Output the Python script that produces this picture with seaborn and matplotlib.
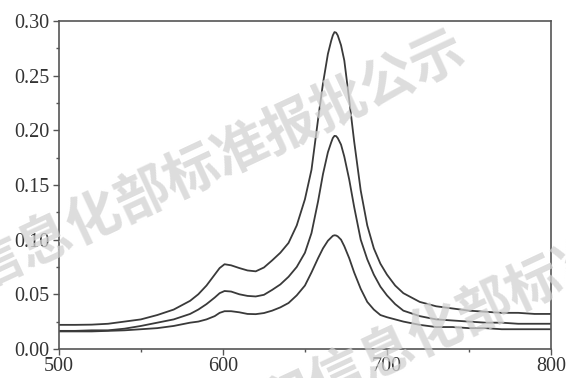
import matplotlib
matplotlib.use("Agg")
import matplotlib.pyplot as plt
import numpy as np
import pandas as pd
import seaborn as sns
from matplotlib.ticker import MultipleLocator

# wavelength (nm) and absorbance of the three spectra
wavelength = [500, 510, 520, 530, 540, 550, 560, 570, 580, 585, 590, 595, 598,
              601, 605, 610, 615, 620, 625, 630, 635, 640, 645, 650, 654, 658,
              661, 664, 666, 667, 668, 669, 670, 672, 674, 677, 680, 684, 688,
              692, 696, 700, 705, 710, 720, 730, 740, 750, 760, 770, 780, 790,
              800]

high = [0.022, 0.022, 0.0222, 0.023, 0.025, 0.027, 0.031, 0.036, 0.044, 0.050,
        0.058, 0.068, 0.074, 0.0775, 0.0765, 0.074, 0.0718, 0.071, 0.0745, 0.081,
        0.088, 0.097, 0.113, 0.137, 0.164, 0.210, 0.243, 0.270, 0.282, 0.287,
        0.290, 0.2895, 0.287, 0.278, 0.264, 0.228, 0.190, 0.145, 0.113, 0.092,
        0.078, 0.068, 0.058, 0.051, 0.043, 0.039, 0.037, 0.035, 0.034, 0.033,
        0.033, 0.032, 0.032]

mid = [0.0165, 0.0165, 0.017, 0.017, 0.0185, 0.021, 0.024, 0.027, 0.032, 0.036,
       0.041, 0.047, 0.051, 0.053, 0.0525, 0.050, 0.0485, 0.048, 0.0495, 0.054,
       0.059, 0.066, 0.075, 0.088, 0.106, 0.135, 0.160, 0.180, 0.189, 0.193,
       0.195, 0.1948, 0.193, 0.187, 0.176, 0.155, 0.130, 0.100, 0.082, 0.068,
       0.057, 0.049, 0.041, 0.035, 0.030, 0.027, 0.026, 0.025, 0.024, 0.024,
       0.023, 0.023, 0.023]

low = [0.016, 0.016, 0.016, 0.0165, 0.017, 0.018, 0.019, 0.021, 0.024, 0.025,
       0.027, 0.030, 0.033, 0.0345, 0.0345, 0.0335, 0.032, 0.0318, 0.0328, 0.035,
       0.038, 0.042, 0.049, 0.058, 0.070, 0.083, 0.092, 0.099, 0.102, 0.1035,
       0.104, 0.1038, 0.103, 0.100, 0.094, 0.083, 0.070, 0.055, 0.043, 0.036,
       0.031, 0.029, 0.027, 0.025, 0.022, 0.020, 0.020, 0.019, 0.019, 0.018,
       0.018, 0.018, 0.018]

watermark = "工业和信息化部标准报批公示"

df = pd.concat([
    pd.DataFrame({"wavelength": wavelength, "abs": high, "series": "high"}),
    pd.DataFrame({"wavelength": wavelength, "abs": mid, "series": "mid"}),
    pd.DataFrame({"wavelength": wavelength, "abs": low, "series": "low"}),
])

sns.set_style("ticks")
plt.rcParams["font.family"] = ["Liberation Serif", "DejaVu Serif"]

fig = plt.figure(figsize=(5.66, 3.78), dpi=100)
ax = fig.add_axes([0.104, 0.077, 0.8695, 0.867])

sns.lineplot(data=df, x="wavelength", y="abs", hue="series",
             palette=["#3a3a3a"] * 3, linewidth=1.3, legend=False, ax=ax)

ax.set_xlim(500, 800)
ax.set_ylim(0, 0.30)
ax.set_xticks([500, 600, 700, 800])
ax.set_yticks([0.0, 0.05, 0.10, 0.15, 0.20, 0.25, 0.30])
ax.set_yticklabels(["0.00", "0.05", "0.10", "0.15", "0.20", "0.25", "0.30"])
ax.xaxis.set_minor_locator(MultipleLocator(50))
ax.yaxis.set_minor_locator(MultipleLocator(0.025))
ax.set_xlabel("")
ax.set_ylabel("")

for s in ax.spines.values():
    s.set_visible(True)
    s.set_color("#555555")
    s.set_linewidth(1.2)

ax.tick_params(which="major", direction="out", length=4.5, width=1,
               color="#555555", labelsize=14.5, labelcolor="#333333", pad=2.5)
ax.tick_params(axis="x", which="major", pad=1)
ax.tick_params(which="minor", direction="out", length=2.5, width=1, color="#555555")
ax.tick_params(top=False, right=False)

# faint watermark text across the figure
for cx, cy in [(0.253, 0.484), (0.857, 0.188)]:
    fig.text(cx, cy, watermark, family=["Noto Sans CJK SC"], fontsize=39,
             color="#d2d2d2", alpha=0.75, rotation=25, rotation_mode="anchor",
             ha="center", va="center", fontweight="bold")

fig.savefig("out.png", dpi=100)
